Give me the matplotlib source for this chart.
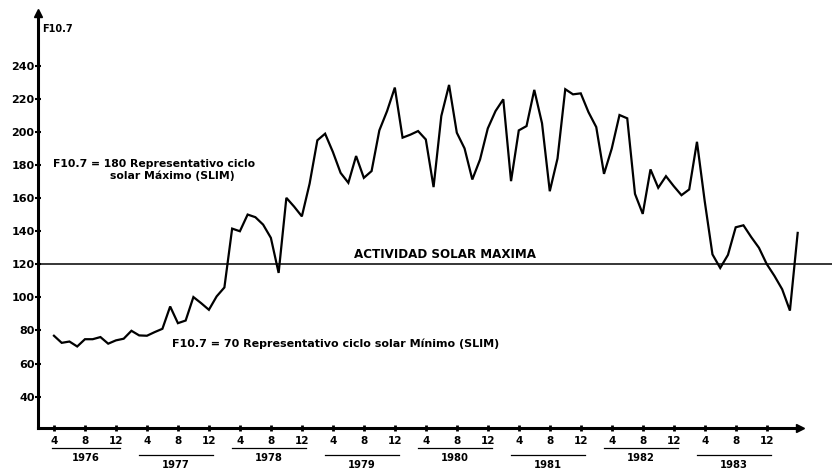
import numpy as np
import matplotlib.pyplot as plt

plt.rcParams['font.family'] = ['DejaVu Sans']
plt.rcParams['font.weight'] = 'bold'

# monthly F10.7, starting April 1976
f107_1976 = [76.8, 72.5, 73.3, 70.3, 74.7, 74.7, 76, 72, 74]
f107_1977 = [75, 79.8, 77, 76.8, 79, 81, 94.5, 84.4, 86, 100.2, 96.5, 92.5]
f107_1978 = [100.6, 106, 141.6, 140, 150.1, 148.5, 144, 136, 114.8, 160.2, 154.9, 149]
f107_1979 = [168.8, 195, 199, 188, 175.3, 169.3, 185.5, 172.3, 176.4, 201, 212.7, 226.9]
f107_1980 = [196.6, 198.4, 200.6, 195.5, 166.7, 209.7, 228.5, 199.6, 190.1, 171.3, 183.4, 202.2]
f107_1981 = [212.7, 219.8, 170.3, 201, 203.6, 225.5, 205.3, 164.2, 184, 225.9, 222.8, 223.4]
f107_1982 = [212, 203, 174.7, 190, 210.3, 208.3, 162.6, 150.5, 177.4, 166.3, 173.3, 167.3]
f107_1983 = [161.8, 165.3, 194.1, 158.2, 126, 117.8, 125.7, 142.4, 143.6, 136.5, 130, 120.2]
f107_1984 = [113, 104.9, 92, 139]

years = [1976, 1977, 1978, 1979, 1980, 1981, 1982, 1983]
month_ticks = [4, 8, 12]
ytick_vals = list(range(40, 241, 20))
max_level = 120

flux = (f107_1976 + f107_1977 + f107_1978 + f107_1979 + f107_1980
        + f107_1981 + f107_1982 + f107_1983 + f107_1984)
# months counted from January 1976 = 1
months = np.arange(4, 4 + len(flux))

fig = plt.figure(figsize=(8.32, 4.70), dpi=100)
ax = fig.add_axes([38 / 832, 42 / 470, 762 / 832, 415 / 470])
ax.set_xlim(1.94, 100.3)
ax.set_ylim(21, 272)

ax.plot(months, flux, color='black', lw=1.6, solid_joinstyle='miter')

# line of maximum activity, runs past the axis to the page edge
ax.plot([1.94, 106], [max_level, max_level], color='black', lw=1.1, clip_on=False)

# axes with arrow heads
for side in ['top', 'right']:
    ax.spines[side].set_visible(False)
for side in ['left', 'bottom']:
    ax.spines[side].set_linewidth(2.2)
ax.plot(1, 0, '>k', ms=6, transform=ax.transAxes, clip_on=False)
ax.plot(0, 1, '^k', ms=6, transform=ax.transAxes, clip_on=False)

ax.set_yticks(ytick_vals)
ax.tick_params(axis='y', direction='inout', length=5, width=1.5, labelsize=8, pad=0)

xt = [12 * (yr - 1976) + m for yr in years for m in month_ticks]
ax.set_xticks(xt)
ax.set_xticklabels([str((m - 1) % 12 + 1) for m in xt])
ax.tick_params(axis='x', direction='inout', length=4, width=2, labelsize=7.5, pad=4)

# year captions under the month ticks, alternating rows
trans = ax.get_xaxis_transform()
for i, yr in enumerate(years):
    off = 12 * (yr - 1976)
    x0, x1 = max(off + 3, 3.7), off + 12.5
    row = i % 2
    yl = -0.048 - 0.017 * row
    ax.plot([x0, x1], [yl, yl], color='black', lw=0.9, transform=trans, clip_on=False)
    ax.text((x0 + x1) / 2, yl - 0.024, str(yr), transform=trans, ha='center',
            va='center', fontsize=7.2)

ax.text(2.45, 262.4, 'F10.7', fontsize=7, va='center', ha='left')
ax.text(3.87, 180.6, 'F10.7 = 180 Representativo ciclo', fontsize=7.8, va='center')
ax.text(11.2, 173.3, 'solar Máximo (SLIM)', fontsize=7.8, va='center')
ax.text(42.7, 126, 'ACTIVIDAD SOLAR MAXIMA', fontsize=8.6, va='center')
ax.text(19.2, 72.1, 'F10.7 = 70 Representativo ciclo solar Mínimo (SLIM)',
        fontsize=8.0, va='center')

fig.savefig('out.png', dpi=100)
